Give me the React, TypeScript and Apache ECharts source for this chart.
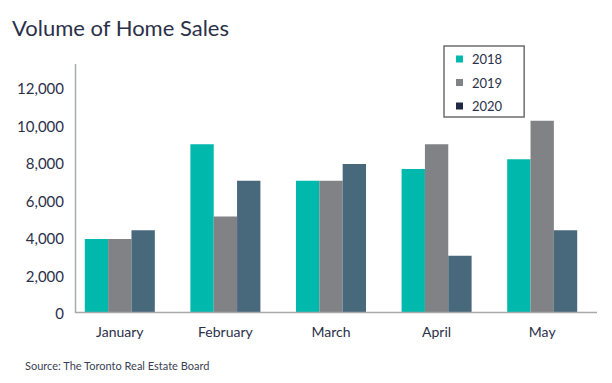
import React, { useEffect, useRef } from "react";
import * as echarts from "echarts";

const months = ["January", "February", "March", "April", "May"];
const sales2018 = [3950, 9000, 7050, 7680, 8200];
const sales2019 = [3950, 5150, 7050, 9000, 10250];
const sales2020 = [4420, 7050, 7950, 3050, 4420];
const yTicks = [0, 2000, 4000, 6000, 8000, 10000, 12000];

const TEXT = "#2b3049";
const FONT = "Lato";

export default function App() {
  const ref = useRef<HTMLDivElement>(null);
  useEffect(() => {
    if (!ref.current) return;
    const chart = echarts.init(ref.current, undefined, { renderer: "svg" });
    chart.setOption({
      animation: false,
      backgroundColor: "#ffffff",
      textStyle: { fontFamily: FONT },
      title: [
        {
          text: "Volume of Home Sales",
          left: 7,
          top: 11,
          textStyle: { fontFamily: FONT, fontSize: 22, fontWeight: "normal", color: TEXT },
        },
        {
          text: "Source: The Toronto Real Estate Board",
          left: 20,
          top: 355,
          textStyle: { fontFamily: FONT, fontSize: 11, fontWeight: "normal", color: "#3a3f55" },
        },
      ],
      legend: {
        orient: "vertical",
        left: 444,
        top: 46,
        padding: [5, 22, 3, 12],
        itemWidth: 7,
        itemHeight: 7,
        itemGap: 7.5,
        borderColor: "#6d6e71",
        borderWidth: 1.5,
        icon: "rect",
        textStyle: { fontFamily: FONT, fontSize: 13, color: TEXT, lineHeight: 16, padding: [0, 0, 0, 4] },
        data: [
          { name: "2018", itemStyle: { color: "#00b9ad" } },
          { name: "2019", itemStyle: { color: "#808285" } },
          { name: "2020", itemStyle: { color: "#1f2945" } },
        ],
      },
      grid: { left: 67, right: 17, top: 88, bottom: 70, containLabel: false },
      xAxis: {
        type: "category",
        data: months,
        axisLine: { show: false },
        axisTick: { show: false },
        axisLabel: { fontFamily: FONT, fontSize: 14, color: TEXT, margin: 11 },
      },
      yAxis: {
        type: "value",
        min: yTicks[0],
        max: yTicks[yTicks.length - 1],
        interval: 2000,
        axisLine: { show: false },
        axisTick: { show: false },
        splitLine: { show: false },
        axisLabel: {
          fontFamily: FONT,
          fontSize: 15,
          color: TEXT,
          margin: 3,
          formatter: (v: number) => v.toLocaleString("en-US"),
        },
      },
      graphic: [
        {
          type: "line",
          shape: { x1: 75.5, y1: 64, x2: 75.5, y2: 313 },
          style: { stroke: "#a7a9ac", lineWidth: 1.5 },
        },
        {
          type: "line",
          shape: { x1: 75, y1: 312.5, x2: 597, y2: 312.5 },
          style: { stroke: "#a7a9ac", lineWidth: 1.5 },
          z: 10,
        },
      ],
      series: [
        { name: "2018", type: "bar", data: sales2018, itemStyle: { color: "#00b9ad" }, barGap: "0%", barCategoryGap: "33.7%" },
        { name: "2019", type: "bar", data: sales2019, itemStyle: { color: "#808285" }, barGap: "0%", barCategoryGap: "33.7%" },
        { name: "2020", type: "bar", data: sales2020, itemStyle: { color: "#48687b" }, barGap: "0%", barCategoryGap: "33.7%" },
      ],
    });
    return () => chart.dispose();
  }, []);
  return <div ref={ref} style={{ width: 612, height: 383, position: "absolute", left: 0, top: 0 }} />;
}
